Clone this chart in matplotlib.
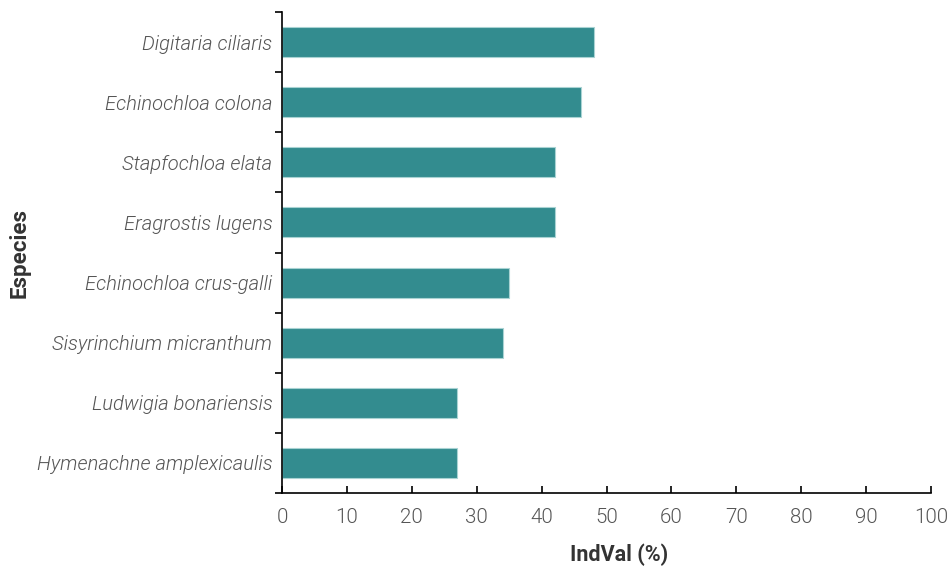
import numpy as np
import matplotlib.pyplot as plt

plt.rcParams['font.family'] = ['Roboto', 'DejaVu Sans']

# species from bottom to top
especies = ['Hymenachne amplexicaulis', 'Ludwigia bonariensis', 'Sisyrinchium micranthum',
            'Echinochloa crus-galli', 'Eragrostis lugens', 'Stapfochloa elata',
            'Echinochloa colona', 'Digitaria ciliaris']
indval = [27, 27, 34, 35, 42, 42, 46, 48]
xticks = [0, 10, 20, 30, 40, 50, 60, 70, 80, 90, 100]

fig = plt.figure(figsize=(9.5, 5.66), dpi=100)
ax = fig.add_axes([282 / 950, 1 - 493 / 566, (931 - 282) / 950, (493 - 12) / 566])

y = np.arange(len(especies))
ax.barh(y, indval, height=0.5, color='#338C8F', edgecolor='#a9d3d3', linewidth=0.8)

ax.set_xlim(0, 100)
ax.set_ylim(-0.5, len(especies) - 0.5)
ax.set_xticks(xticks)
ax.set_xticklabels([str(t) for t in xticks], fontsize=14.8, fontweight=300, color='#555555')
ax.tick_params(axis='x', direction='in', length=5, width=1.2, pad=11)

ax.set_yticks(y)
ax.set_yticklabels(especies, fontsize=14.5, fontstyle='italic', fontweight=300, color='#555555')
ax.tick_params(axis='y', which='major', length=0, pad=7)
# ticks between the categories
ax.set_yticks(np.arange(-0.5, len(especies), 1.0), minor=True)
ax.tick_params(axis='y', which='minor', direction='out', length=5, width=1.2)

for s in ['top', 'right']:
    ax.spines[s].set_visible(False)
for s in ['left', 'bottom']:
    ax.spines[s].set_linewidth(1.2)
    ax.spines[s].set_color('black')

ax.set_xlabel('IndVal (%)', fontsize=15.5, fontweight='bold', color='#333333', labelpad=13)
ax.xaxis.set_label_coords(0.519, -0.105)
ax.set_ylabel('Especies', fontsize=16, fontweight='bold', color='#333333', labelpad=4)

fig.savefig('out.png', dpi=100)
